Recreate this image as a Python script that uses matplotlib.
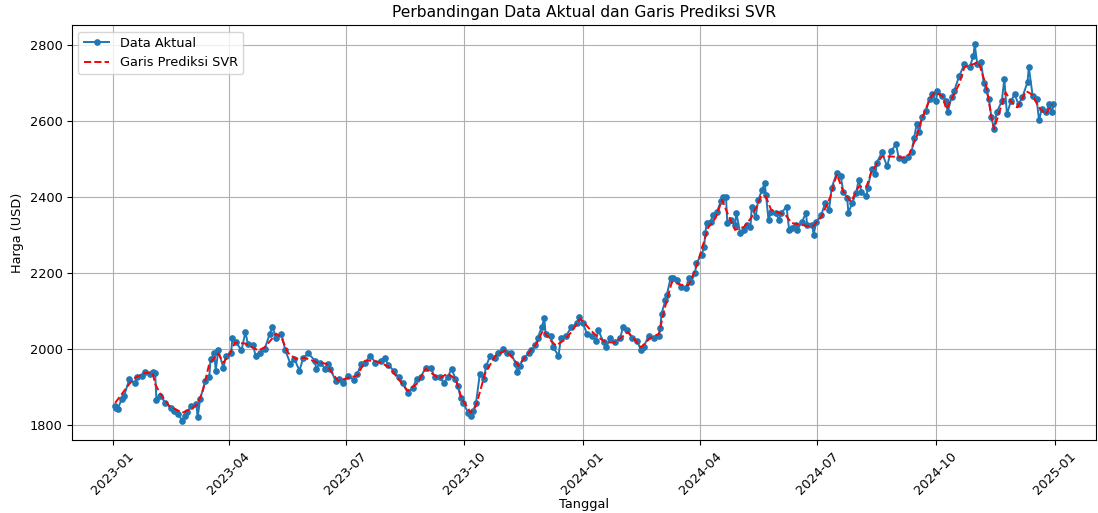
import pandas as pd
import matplotlib
matplotlib.use("Agg")
import matplotlib.pyplot as plt
import matplotlib.dates as mdates
from matplotlib.ticker import MultipleLocator

# hari ke- sejak 2023-01-01, dan harga aktual (USD)
hari_aktual = [2, 3, 4, 7, 9, 13, 17, 19, 23, 25, 29, 31, 33, 34, 37, 41, 45, 48, 51, 54,
               56, 58, 61, 65, 66, 68, 72, 75, 76, 79, 80, 82, 86, 88, 92, 93, 96, 100, 103, 105,
               109, 111, 114, 118, 122, 124, 127, 131, 134, 138, 141, 145, 148, 152, 157, 158, 161, 165, 167, 169,
               173, 176, 179, 183, 187, 190, 193, 196, 200, 204, 208, 211, 214, 218, 222, 225, 229, 233, 236, 239,
               243, 247, 250, 254, 257, 260, 263, 266, 268, 270, 272, 276, 278, 280, 282, 285, 288, 290, 293, 297,
               299, 303, 306, 309, 313, 314, 316, 319, 323, 325, 328, 330, 333, 335, 336, 340, 342, 346, 348, 352,
               356, 360, 362, 365, 368, 372, 375, 377, 381, 383, 386, 390, 394, 396, 399, 403, 407, 410, 412, 416,
               420, 424, 425, 426, 429, 430, 433, 435, 438, 441, 445, 447, 449, 452, 453, 457, 459, 460, 461, 464,
               466, 469, 472, 474, 476, 477, 480, 483, 484, 487, 490, 492, 495, 496, 499, 501, 504, 506, 507, 509,
               511, 515, 517, 519, 523, 525, 527, 530, 531, 535, 538, 539, 543, 544, 546, 550, 553, 556, 558, 562,
               565, 567, 570, 571, 574, 577, 579, 581, 585, 586, 589, 592, 593, 597, 601, 604, 608, 610, 614, 617,
               620, 622, 624, 626, 628, 631, 634, 636, 639, 640, 644, 647, 648, 651, 653, 657, 661, 665, 668, 669,
               671, 674, 676, 678, 680, 682, 684, 686, 690, 692, 694, 697, 700, 703, 706, 710, 711, 714, 717, 719,
               721, 724, 727, 729, 730]
aktual = [1850, 1845, 1842, 1868, 1877, 1921, 1911, 1925, 1930, 1940, 1935, 1938, 1937, 1866, 1877, 1858, 1845, 1837, 1830, 1810,
          1824, 1835, 1850, 1855, 1820, 1869, 1916, 1925, 1974, 1988, 1943, 1996, 1950, 1982, 1990, 2030, 2017, 1996, 2044, 2014,
          2009, 1982, 1990, 2000, 2040, 2057, 2030, 2040, 1996, 1961, 1974, 1943, 1977, 1988, 1969, 1948, 1964, 1948, 1961, 1948,
          1916, 1922, 1911, 1930, 1919, 1935, 1961, 1964, 1982, 1964, 1969, 1977, 1958, 1943, 1925, 1911, 1885, 1898, 1922, 1925,
          1951, 1951, 1925, 1925, 1911, 1925, 1948, 1922, 1903, 1872, 1858, 1832, 1824, 1837, 1858, 1935, 1922, 1956, 1982, 1977,
          1990, 2000, 1990, 1988, 1961, 1938, 1956, 1977, 1988, 1996, 2009, 2030, 2057, 2080, 2040, 2035, 2004, 1982, 2030, 2035,
          2057, 2067, 2083, 2068, 2040, 2035, 2022, 2049, 2017, 2004, 2028, 2017, 2030, 2057, 2049, 2030, 2022, 1996, 2004, 2035,
          2028, 2035, 2054, 2093, 2128, 2141, 2186, 2186, 2181, 2162, 2159, 2186, 2176, 2200, 2226, 2247, 2268, 2305, 2331, 2334,
          2353, 2361, 2388, 2400, 2400, 2331, 2339, 2326, 2358, 2305, 2313, 2326, 2321, 2374, 2347, 2392, 2418, 2437, 2406, 2339,
          2361, 2358, 2339, 2358, 2374, 2313, 2318, 2326, 2313, 2334, 2358, 2326, 2326, 2300, 2334, 2353, 2384, 2366, 2424, 2463,
          2455, 2414, 2398, 2358, 2384, 2411, 2445, 2414, 2401, 2424, 2472, 2459, 2490, 2517, 2480, 2520, 2538, 2503, 2498, 2506,
          2517, 2556, 2591, 2570, 2609, 2625, 2657, 2670, 2651, 2678, 2665, 2651, 2622, 2662, 2678, 2718, 2749, 2741, 2770, 2802,
          2749, 2754, 2700, 2680, 2657, 2609, 2578, 2622, 2651, 2710, 2617, 2651, 2670, 2643, 2662, 2702, 2741, 2665, 2657, 2601,
          2632, 2622, 2643, 2622, 2643]

# garis prediksi SVR
hari_prediksi = [2, 13, 18, 25, 31, 33, 37, 44, 54, 61, 66, 70, 75, 82, 86, 91, 95, 103, 113, 118,
                 127, 131, 136, 142, 149, 159, 166, 169, 175, 184, 190, 196, 202, 208, 215, 224, 229, 236, 243, 253,
                 260, 266, 271, 278, 282, 289, 297, 305, 311, 315, 321, 329, 334, 340, 344, 350, 356, 363, 371, 377,
                 383, 390, 400, 407, 410, 417, 424, 428, 434, 442, 447, 452, 457, 462, 468, 473, 477, 483, 490, 496,
                 503, 507, 511, 517, 522, 527, 535, 543, 550, 557, 562, 567, 573, 579, 585, 589, 597, 605, 613, 618,
                 624, 627, 634, 638, 644, 647, 651, 657, 661, 672, 678, 682, 684, 690, 693, 697, 702, 709, 713, 719,
                 724, 729]
prediksi = [1858, 1908, 1925, 1937, 1937, 1908, 1882, 1850, 1832, 1842, 1855, 1890, 1961, 1988, 1964, 1988, 2017, 2014, 1996, 2004,
            2040, 2030, 1990, 1974, 1977, 1964, 1961, 1943, 1916, 1925, 1930, 1969, 1969, 1964, 1951, 1911, 1890, 1908, 1948, 1922,
            1935, 1922, 1869, 1832, 1850, 1935, 1982, 1996, 1974, 1956, 1982, 2014, 2049, 2022, 2009, 2022, 2044, 2080, 2049, 2030,
            2017, 2017, 2044, 2017, 2004, 2028, 2040, 2101, 2176, 2168, 2168, 2207, 2260, 2318, 2345, 2392, 2358, 2313, 2321, 2347,
            2400, 2400, 2366, 2358, 2353, 2331, 2326, 2321, 2347, 2400, 2459, 2414, 2387, 2427, 2427, 2467, 2506, 2506, 2503, 2511,
            2559, 2596, 2657, 2675, 2665, 2630, 2657, 2697, 2741, 2754, 2691, 2609, 2578, 2643, 2675, 2651, 2635, 2678, 2670, 2635,
            2617, 2643]

awal = pd.Timestamp("2023-01-01")
tgl_aktual = awal + pd.to_timedelta(hari_aktual, unit="D")
tgl_prediksi = awal + pd.to_timedelta(hari_prediksi, unit="D")

# gambar aslinya tampak sedikit diperkecil, jadi huruf dibuat lebih kecil
plt.rcParams["font.size"] = 9.3
plt.rcParams["xtick.major.size"] = 3.3
plt.rcParams["ytick.major.size"] = 3.3

fig = plt.figure(figsize=(10.98, 5.13), dpi=100)
ax = fig.add_axes([0.0656, 0.1423, 0.933, 0.8087])

ax.plot(tgl_aktual, aktual, marker="o", markersize=3.8, linewidth=1.4, color="#1f77b4", label="Data Aktual")
ax.plot(tgl_prediksi, prediksi, linestyle="--", linewidth=1.4, color="red", label="Garis Prediksi SVR")

ax.set_title("Perbandingan Data Aktual dan Garis Prediksi SVR", fontsize=11.2)
ax.set_xlabel("Tanggal", labelpad=0.5)
ax.set_ylabel("Harga (USD)")
ax.margins(x=0.046)
ax.xaxis.set_major_locator(mdates.MonthLocator(bymonth=[1, 4, 7, 10]))
ax.xaxis.set_major_formatter(mdates.DateFormatter("%Y-%m"))
ax.yaxis.set_major_locator(MultipleLocator(200))
plt.setp(ax.get_xticklabels(), rotation=45)
ax.grid(True)
ax.legend(loc="upper left")

fig.savefig("out.png", dpi=100)
